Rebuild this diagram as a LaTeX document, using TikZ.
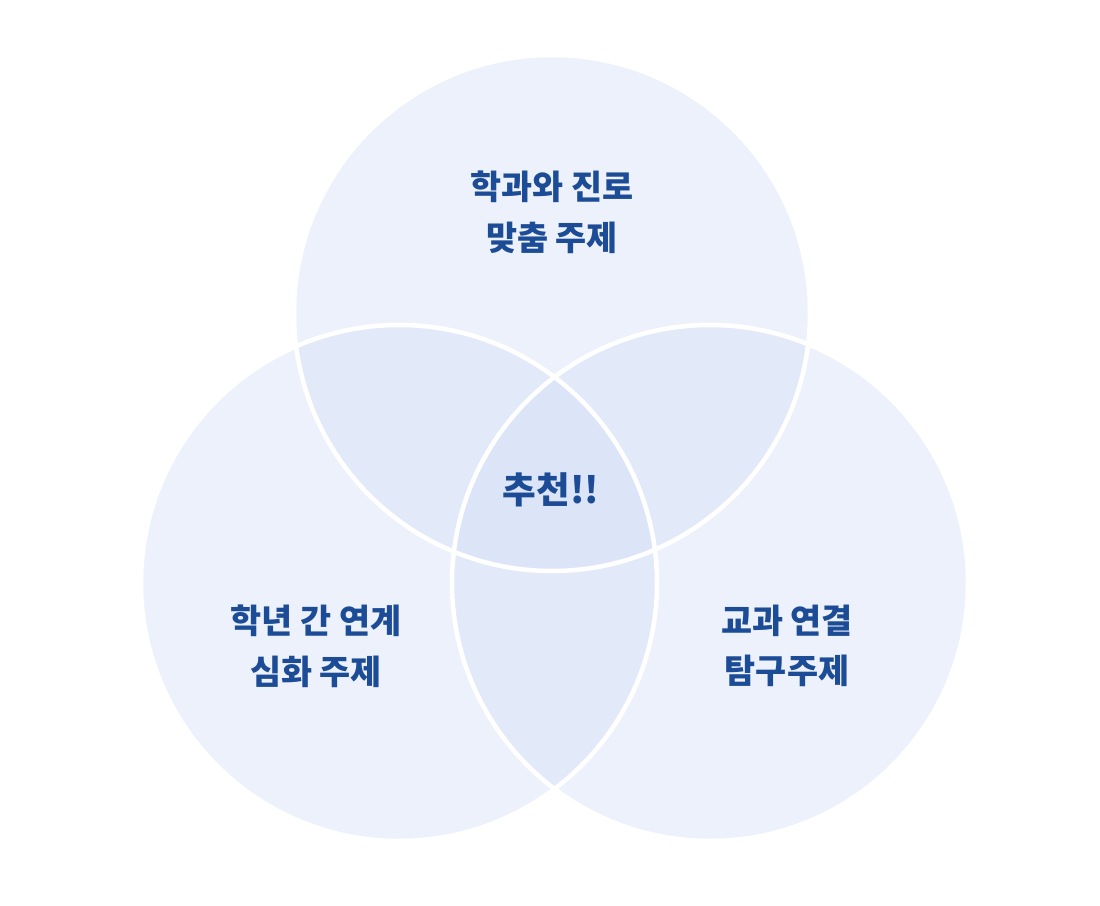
\documentclass[tikz,border=0pt]{standalone}
\usepackage{fontspec}
\newfontfamily\krfont{Noto Sans CJK KR}
\usepackage{xcolor}
\definecolor{setfill}{RGB}{210,220,246}
\definecolor{labelblue}{RGB}{28,76,150}
\usetikzlibrary{positioning}
\tikzset{
  setdisc/.style={fill=setfill, fill opacity=0.4},
  setrim/.style={draw=white, line width=3.2pt},
  setlabel/.style={text=labelblue, font=\krfont\bfseries\fontsize{24}{36}\selectfont, align=center}
}

\begin{document}
\begin{tikzpicture}[x=0.025cm, y=-0.025cm]
\useasboundingbox (0,0) rectangle (1100,906);

% --- centres of the three sets ---
\coordinate (top) at (552,313);
\coordinate (left) at (399,583);
\coordinate (right) at (710,583);

% --- fills first, rims on top ---
\foreach \c in {top,left,right}{
  \fill[setdisc] (\c) circle (258);
}
\foreach \c in {top,left,right}{
  \draw[setrim] (\c) circle (258);
}

% --- labels ---
\node[setlabel] (major) at (552,212) {학과와 진로\\맞춤 주제};
\node[setlabel] (grade) at (316,646) {학년 간 연계\\심화 주제};
\node[setlabel] (subject) at (787,646) {교과 연결\\탐구주제};
\node[setlabel, font=\krfont\bfseries\fontsize{26}{36}\selectfont] (pick) at (551,490) {추천!!};

\end{tikzpicture}
\end{document}
